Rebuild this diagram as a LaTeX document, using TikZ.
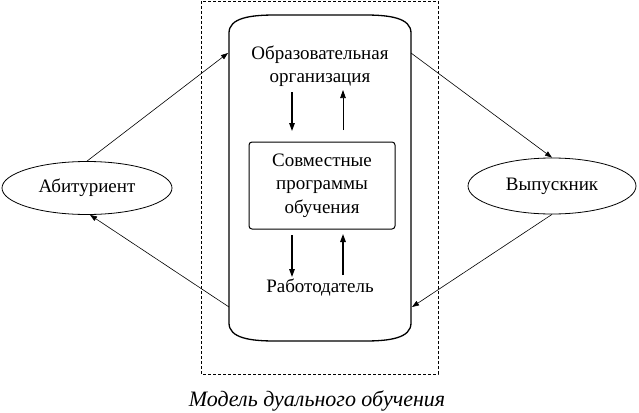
\documentclass[tikz,border=0pt]{standalone}
\usepackage{fontspec}
\setmainfont{Liberation Serif}
\usetikzlibrary{arrows.meta,shapes.geometric}
\begin{document}
\begin{tikzpicture}[x=1pt,y=-1pt,
  txt/.style={font=\fontsize{19}{23.5}\selectfont, align=center, inner sep=0pt},
  oval/.style={ellipse, draw, line width=0.8pt, minimum width=170pt, minimum height=53pt, inner sep=0pt, font=\fontsize{19}{23.5}\selectfont},
  conn/.style={line width=0.6pt, -{Triangle[length=7pt,width=5pt]}},
  inarrow/.style={line width=1.3pt, -{Triangle[length=8pt,width=5.5pt]}},
  inarrowthin/.style={line width=0.7pt, -{Triangle[length=8pt,width=5.5pt]}}]
\useasboundingbox (0,0) rectangle (639,412);
% dashed frame
\draw[line width=0.8pt, dash pattern=on 3pt off 2pt] (201,1) rectangle (438,374);
% cylinder-like shape
\draw[line width=1.3pt] (229,33) .. controls (229,18) and (250,15) .. (275,15) -- (365,15)
  .. controls (390,15) and (411,18) .. (411,33) -- (411,323)
  .. controls (411,338) and (390,341) .. (365,341) -- (275,341)
  .. controls (250,341) and (229,338) .. (229,323) -- cycle;
\coordinate (cA) at (228,53);
\coordinate (cB) at (229,307);
\coordinate (cC) at (411,53);
\coordinate (cD) at (412,307);
% texts
\node[txt] (org) at (320,66) {Образовательная\\организация};
\node[draw, line width=1pt, rounded corners=3pt, minimum width=146pt, minimum height=87pt, txt] (prog) at (322,185.5) {Совместные\\программы\\обучения};
\node[txt] (rab) at (320,288) {Работодатель};
% inner arrows
\coordinate (o1) at (292,92);
\coordinate (p1) at (292,131);
\coordinate (p2) at (343,130);
\coordinate (o2) at (343,90);
\coordinate (p3) at (292,235);
\coordinate (r1) at (292,277);
\coordinate (r2) at (343,275);
\coordinate (p4) at (343,234);
\draw[inarrow] (o1) -- (p1);
\draw[inarrowthin] (p2) -- (o2);
\draw[inarrow] (p3) -- (r1);
\draw[inarrow] (r2) -- (p4);
% ellipses
\node[oval] (abit) at (87,188) {Абитуриент};
\node[oval, minimum width=168pt, minimum height=56pt] (vyp) at (552,186) {Выпускник};
% connectors
\draw[conn] (abit.north) -- (cA);
\draw[conn] (cB) -- ([xshift=3pt]abit.south);
\draw[conn] (cC) -- (vyp.north);
\draw[conn] (vyp.south) -- (cD);
% caption
\node[font=\fontsize{22}{26}\selectfont\itshape, inner sep=0pt] (cap) at (317,401) {Модель дуального обучения};
\end{tikzpicture}
\end{document}
